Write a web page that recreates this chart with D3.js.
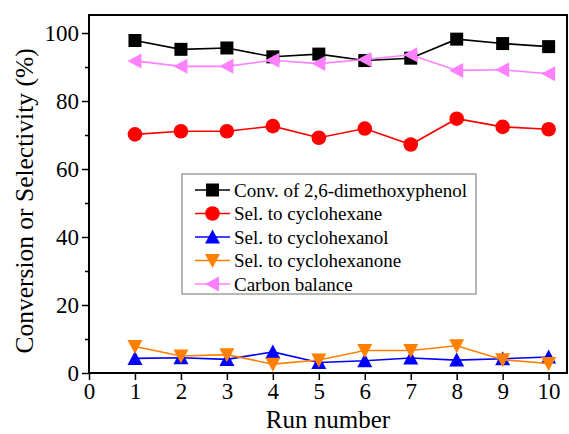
<!DOCTYPE html>
<html>
<head>
<meta charset="utf-8">
<script src="https://cdn.jsdelivr.net/npm/d3@7"></script>
<style>
  body { margin: 0; background: #fff; }
  svg text { font-family: "Liberation Serif", "Times New Roman", Tinos, "DejaVu Serif", serif !important; }
</style>
</head>
<body>
<div id="chart"></div>
<script>
// run numbers and series
var runs = [1, 2, 3, 4, 5, 6, 7, 8, 9, 10];
var convDMP = [97.8, 95.2, 95.6, 93.0, 93.8, 91.9, 92.6, 98.2, 96.9, 96.0];
var selCyclohexane = [70.2, 71.1, 71.1, 72.6, 69.2, 71.9, 67.2, 74.8, 72.4, 71.7];
var selCyclohexanol = [4.3, 4.5, 4.0, 6.2, 3.1, 3.6, 4.4, 3.8, 4.2, 4.7];
var selCyclohexanone = [7.8, 5.0, 5.4, 2.6, 3.8, 6.6, 6.6, 8.0, 3.9, 2.8];
var carbonBalance = [91.8, 90.2, 90.2, 92.0, 91.0, 92.2, 93.6, 89.0, 89.2, 88.0];

var xTicks = [0, 1, 2, 3, 4, 5, 6, 7, 8, 9, 10];
var yTicks = [0, 20, 40, 60, 80, 100];
var yMinor = [10, 30, 50, 70, 90];

var series = [
  { name: "Conv. of 2,6-dimethoxyphenol", values: convDMP, color: "#000000", symbol: "square" },
  { name: "Sel. to cyclohexane", values: selCyclohexane, color: "#ff0000", symbol: "circle" },
  { name: "Sel. to cyclohexanol", values: selCyclohexanol, color: "#0000ff", symbol: "up" },
  { name: "Sel. to cyclohexanone", values: selCyclohexanone, color: "#ff8000", symbol: "down" },
  { name: "Carbon balance", values: carbonBalance, color: "#ff80ff", symbol: "left" }
];

var width = 569, height = 434;
var margin = { left: 89, right: 2, top: 15, bottom: 61 };

var svg = d3.select("#chart").append("svg")
  .attr("width", width)
  .attr("height", height);

var x = d3.scaleLinear().domain([0, 10.4]).range([margin.left, width - margin.right]);
var y = d3.scaleLinear().domain([0, 105.3]).range([height - margin.bottom, margin.top]);

// marker paths centred on 0,0
function markerPath(sym, s) {
  var h = s / 2;
  if (sym === "square") return "M" + (-h) + "," + (-h) + "h" + s + "v" + s + "h" + (-s) + "Z";
  if (sym === "up") return "M0," + (-h - 1) + "L" + (h + 1) + "," + (h) + "L" + (-h - 1) + "," + (h) + "Z";
  if (sym === "down") return "M0," + (h + 1) + "L" + (h + 1) + "," + (-h) + "L" + (-h - 1) + "," + (-h) + "Z";
  if (sym === "left") return "M" + (-h - 1) + ",0L" + (h) + "," + (-h - 1) + "L" + (h) + "," + (h + 1) + "Z";
  return null;
}

function drawMarker(g, sym, color) {
  if (sym === "circle") {
    g.append("circle").attr("r", 7.3).attr("fill", color);
  } else {
    g.append("path").attr("d", markerPath(sym, 13)).attr("fill", color);
  }
}

// axes
var yAxis = d3.axisLeft(y).tickValues(yTicks).tickSize(7).tickPadding(3);
var yAxisMinor = d3.axisLeft(y).tickValues(yMinor).tickSize(4).tickFormat("");
var xAxis = d3.axisBottom(x).tickValues(xTicks).tickSize(7).tickPadding(3);

var gy = svg.append("g").attr("transform", "translate(" + margin.left + ",0)").call(yAxis);
svg.append("g").attr("transform", "translate(" + margin.left + ",0)").call(yAxisMinor);
var gx = svg.append("g").attr("transform", "translate(0," + y(0) + ")").call(xAxis);

svg.selectAll(".domain").remove();
svg.selectAll(".tick line").attr("stroke", "#000").attr("stroke-width", 1.5);
svg.selectAll(".tick text").attr("font-size", 23).attr("fill", "#000");

// frame
svg.append("rect")
  .attr("x", margin.left)
  .attr("y", margin.top)
  .attr("width", x.range()[1] - margin.left)
  .attr("height", y(0) - margin.top)
  .attr("fill", "none")
  .attr("stroke", "#000")
  .attr("stroke-width", 2);

// axis titles
svg.append("text")
  .attr("x", (x.range()[0] + x.range()[1]) / 2)
  .attr("y", 428)
  .attr("text-anchor", "middle")
  .attr("font-size", 25)
  .text("Run number");

svg.append("text")
  .attr("transform", "translate(33,201) rotate(-90)")
  .attr("text-anchor", "middle")
  .attr("font-size", 25.5)
  .text("Conversion or Selectivity (%)");

// lines and markers
var line = d3.line()
  .x(function(d, i) { return x(runs[i]); })
  .y(function(d) { return y(d); });

series.forEach(function(s) {
  svg.append("path")
    .datum(s.values)
    .attr("d", line)
    .attr("fill", "none")
    .attr("stroke", s.color)
    .attr("stroke-width", 1.6);
  s.values.forEach(function(v, i) {
    var g = svg.append("g").attr("transform", "translate(" + x(runs[i]) + "," + y(v) + ")");
    drawMarker(g, s.symbol, s.color);
  });
});

// legend
var legend = svg.append("g");
legend.append("rect")
  .attr("x", 182).attr("y", 174)
  .attr("width", 294).attr("height", 120)
  .attr("fill", "#fff")
  .attr("stroke", "#888")
  .attr("stroke-width", 1.2);

series.forEach(function(s, i) {
  var ry = 190 + i * 23.5;
  var g = legend.append("g").attr("transform", "translate(0," + ry + ")");
  g.append("line")
    .attr("x1", 195).attr("x2", 230)
    .attr("y1", 0).attr("y2", 0)
    .attr("stroke", s.color).attr("stroke-width", 1.6);
  var m = g.append("g").attr("transform", "translate(212.5,0)");
  drawMarker(m, s.symbol, s.color);
  g.append("text")
    .attr("x", 234).attr("y", 6.5)
    .attr("font-size", 19)
    .text(s.name);
});
</script>
</body>
</html>
